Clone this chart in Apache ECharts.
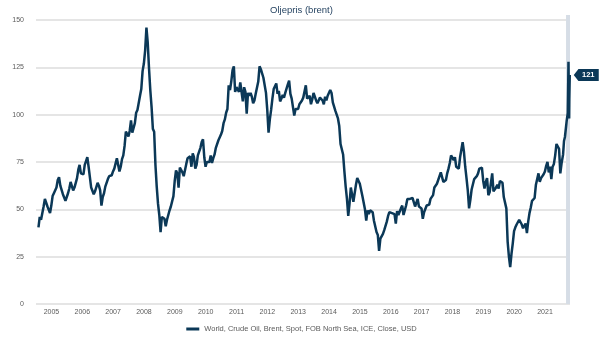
<!DOCTYPE html>
<html>
<head>
<meta charset="utf-8">
<script src="https://cdn.jsdelivr.net/npm/echarts@6/dist/echarts.min.js"></script>
<style>
  html, body { margin: 0; padding: 0; background: #ffffff; }
  #chart { width: 603px; height: 340px; }
</style>
</head>
<body>
<div id="chart"></div>
<script>
// Brent spot, USD per barrel. Two closes per month (around the 1st and the 15th).
const brent2005 = [40.5, 46.0, 44.5, 45.5, 51.5, 55.5, 55.5, 51.5, 51.0, 48.0, 52.0, 57.0, 58.5, 57.5, 61.5, 65.5, 67.0, 62.5, 61.5, 58.0, 58.0, 54.5, 55.5, 58.5];
const brent2006 = [61.0, 64.5, 65.0, 60.0, 61.5, 62.5, 66.5, 71.0, 73.5, 69.0, 70.0, 68.5, 73.5, 75.5, 77.5, 72.5, 67.0, 61.5, 62.0, 58.0, 59.5, 59.5, 64.0, 62.5];
const brent2007 = [60.0, 52.0, 56.5, 58.5, 62.0, 62.0, 66.0, 67.5, 66.5, 68.0, 70.0, 71.5, 72.5, 77.0, 76.5, 70.0, 72.5, 76.5, 78.5, 83.5, 91.0, 91.0, 88.5, 91.5];
const brent2008 = [97.0, 90.5, 91.0, 95.5, 101.0, 102.5, 101.5, 110.0, 113.5, 123.0, 127.0, 134.0, 146.0, 138.0, 124.5, 113.0, 104.0, 92.5, 91.0, 73.5, 62.0, 53.0, 47.0, 38.0];
const brent2009 = [46.0, 45.0, 45.0, 41.0, 44.5, 45.5, 49.5, 51.5, 51.0, 57.0, 65.0, 70.5, 69.0, 61.5, 72.0, 72.5, 69.5, 67.5, 68.5, 74.0, 77.0, 77.5, 78.0, 72.5];
const brent2010 = [79.5, 77.5, 71.5, 73.5, 78.5, 80.5, 82.5, 85.5, 87.0, 77.5, 72.5, 75.0, 74.5, 75.0, 78.5, 74.5, 77.0, 79.0, 82.5, 83.0, 86.5, 85.5, 89.5, 91.5];
const brent2011 = [95.5, 97.5, 101.0, 103.0, 115.5, 113.0, 117.5, 123.5, 125.5, 112.0, 114.5, 114.0, 112.0, 117.0, 116.0, 107.0, 114.5, 112.0, 100.5, 111.5, 110.0, 111.5, 109.5, 106.0];
const brent2012 = [107.5, 111.0, 111.5, 117.5, 125.5, 124.0, 123.0, 119.5, 119.5, 111.5, 102.5, 90.5, 97.5, 102.5, 108.5, 113.5, 114.5, 116.5, 111.0, 112.5, 107.0, 108.5, 110.5, 109.0];
const brent2013 = [111.5, 110.5, 116.0, 118.0, 111.0, 108.5, 109.5, 99.5, 103.0, 103.0, 103.0, 105.5, 106.5, 107.5, 109.0, 110.0, 115.5, 108.5, 108.0, 110.0, 105.5, 108.0, 111.5, 109.5];
const brent2014 = [107.5, 106.0, 106.5, 109.0, 108.5, 107.5, 105.5, 109.5, 107.5, 110.0, 109.5, 113.0, 111.5, 106.5, 105.5, 102.0, 101.5, 98.0, 94.0, 84.5, 85.0, 79.0, 70.0, 62.0];
const brent2015 = [55.5, 46.5, 53.0, 61.5, 60.5, 54.0, 55.0, 63.0, 66.5, 66.5, 63.5, 62.5, 57.0, 57.0, 50.0, 44.0, 49.5, 47.5, 49.5, 49.0, 48.5, 44.0, 43.0, 38.0];
const brent2016 = [36.5, 28.0, 34.5, 33.5, 37.0, 39.0, 39.0, 43.5, 46.5, 48.5, 49.5, 48.0, 48.5, 47.5, 42.5, 49.0, 47.0, 46.5, 50.5, 52.0, 47.0, 46.5, 52.0, 55.5];
const brent2017 = [56.5, 55.5, 56.5, 56.0, 56.0, 51.5, 52.5, 55.5, 51.5, 52.0, 50.5, 45.0, 48.5, 48.5, 52.0, 51.0, 52.5, 55.5, 56.5, 57.5, 61.5, 62.0, 63.5, 63.5];
const brent2018 = [67.5, 69.5, 69.0, 64.5, 64.0, 65.5, 69.0, 71.5, 74.5, 78.5, 77.5, 76.0, 77.5, 72.5, 73.0, 71.5, 77.5, 78.0, 85.5, 80.5, 72.5, 66.5, 60.0, 50.5];
const brent2019 = [55.0, 60.5, 61.0, 66.0, 65.0, 67.5, 69.0, 71.5, 72.5, 72.0, 65.0, 61.0, 64.5, 66.5, 57.5, 59.0, 59.0, 69.0, 59.5, 59.5, 61.5, 63.0, 61.0, 65.0];
const brent2020 = [66.0, 64.0, 56.5, 57.5, 50.5, 33.0, 25.0, 19.5, 26.5, 32.0, 38.5, 40.5, 42.0, 43.0, 44.5, 45.0, 42.0, 40.0, 40.5, 42.5, 37.5, 43.5, 48.0, 51.0];
const brent2021 = [54.5, 55.0, 56.0, 63.0, 63.5, 69.0, 64.5, 66.5, 67.0, 68.5, 70.0, 73.0, 75.0, 69.5, 72.5, 66.0, 72.5, 74.0, 78.5, 84.5, 84.5, 82.0, 69.0, 74.5];
// 2022 to date, daily closes on selected days
const brent2022 = [
  ['2022-01-03', 79.0], ['2022-01-14', 86.1], ['2022-01-25', 88.2], ['2022-02-01', 89.2],
  ['2022-02-14', 96.5], ['2022-02-22', 96.8], ['2022-02-28', 100.9], ['2022-03-03', 110.5],
  ['2022-03-08', 128.0], ['2022-03-11', 112.7], ['2022-03-16', 98.0], ['2022-03-18', 107.9],
  ['2022-03-23', 121.0]
];

const yearLabels = ['2005', '2006', '2007', '2008', '2009', '2010', '2011', '2012', '2013',
  '2014', '2015', '2016', '2017', '2018', '2019', '2020', '2021'];
const seriesName = 'World, Crude Oil, Brent, Spot, FOB North Sea, ICE, Close, USD';
const highlightFrom = '2022-02-07';

const halfMonthly = [brent2005, brent2006, brent2007, brent2008, brent2009, brent2010,
  brent2011, brent2012, brent2013, brent2014, brent2015, brent2016, brent2017, brent2018,
  brent2019, brent2020, brent2021];

// dates are placed on a continuous axis measured in years
function yearFraction(iso) {
  const d = new Date(iso + 'T00:00:00Z');
  const y = d.getUTCFullYear();
  const a = Date.UTC(y, 0, 1), b = Date.UTC(y + 1, 0, 1);
  return y + (d.getTime() - a) / (b - a);
}

const points = [];
halfMonthly.forEach((vals, k) => {
  const year = 2005 + k;
  vals.forEach((v, i) => points.push([year + i / 24, v]));
});
brent2022.forEach(([d, v]) => points.push([yearFraction(d), v]));
const last = points[points.length - 1];

const xMin = 2004.92;
const xMax = 2022.23;
const navy = '#0b3857';
const axisText = '#5b5b5b';
const font = '"Liberation Sans", Arial, sans-serif';

const chart = echarts.init(document.getElementById('chart'), null, { renderer: 'canvas' });
chart.setOption({
  animation: false,
  backgroundColor: '#ffffff',
  textStyle: { fontFamily: font },
  title: {
    text: 'Oljepris (brent)',
    left: 'center',
    top: 0,
    textStyle: { fontSize: 9.5, fontWeight: 'normal', color: '#1e3d5c', fontFamily: font }
  },
  legend: {
    left: 'center',
    top: 320,
    icon: 'rect',
    itemWidth: 13,
    itemHeight: 3,
    itemGap: 6,
    textStyle: { fontSize: 7.5, color: axisText, fontFamily: font },
    data: [seriesName]
  },
  grid: [
    { left: 36, right: 33, top: 20, bottom: 36, outerBoundsMode: 'none', containLabel: false },
    // slightly taller band area for the recent-period highlight
    { left: 36, right: 33, top: 15, bottom: 36, outerBoundsMode: 'none', containLabel: false }
  ],
  xAxis: [{
    type: 'value',
    min: xMin,
    max: xMax,
    axisLine: { show: false },
    axisTick: { show: false },
    splitLine: { show: false },
    axisLabel: {
      customValues: yearLabels.map(y => Number(y) + 0.42),
      formatter: v => String(Math.floor(v)),
      fontSize: 7,
      color: axisText,
      margin: 5
    }
  }, {
    type: 'value', gridIndex: 1, min: xMin, max: xMax, show: false
  }],
  yAxis: [{
    type: 'value',
    min: 0,
    max: 150,
    interval: 25,
    name: 'USD/Barrel',
    nameLocation: 'middle',
    nameRotate: 90,
    nameGap: 27,
    nameTextStyle: { fontSize: 7.5, color: axisText },
    axisLine: { show: false },
    axisTick: { show: false },
    axisLabel: { fontSize: 7, color: axisText, margin: 12 },
    splitLine: { lineStyle: { color: '#dcdcdc', width: 1.5 } }
  }, {
    type: 'value', gridIndex: 1, min: 0, max: 1, show: false
  }],
  series: [{
    name: 'highlight',
    type: 'line',
    xAxisIndex: 1,
    yAxisIndex: 1,
    data: [],
    showSymbol: false,
    silent: true,
    z: 1,
    markArea: {
      silent: true,
      itemStyle: { color: '#d6dde6' },
      data: [[{ xAxis: yearFraction(highlightFrom) }, { xAxis: xMax }]]
    }
  }, {
    name: seriesName,
    type: 'line',
    data: points,
    showSymbol: false,
    clip: false,
    z: 3,
    color: navy,
    lineStyle: { color: navy, width: 2.5 },
    markPoint: {
      silent: true,
      symbol: 'path://M0,6 L6,0 L32,0 L32,12 L6,12 Z',
      symbolSize: [25, 12],
      symbolOffset: [16.5, 0],
      symbolKeepAspect: false,
      itemStyle: { color: navy },
      label: {
        show: true,
        formatter: p => String(Math.round(p.value)),
        color: '#ffffff',
        fontSize: 7.5,
        fontWeight: 'bold',
        offset: [2, 0]
      },
      data: [{ coord: last, value: last[1] }]
    }
  }]
});
</script>
</body>
</html>
